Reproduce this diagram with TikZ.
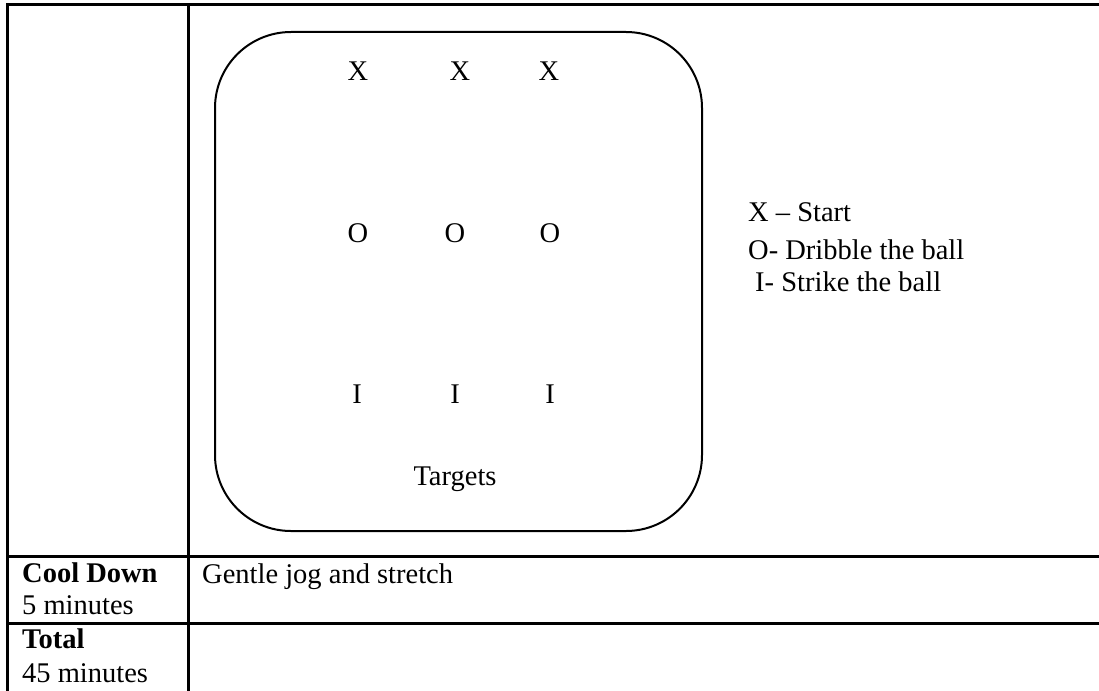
\documentclass[tikz,border=0pt]{standalone}
\usepackage{fontspec}
\setmainfont{Liberation Serif}
\begin{document}
\begin{tikzpicture}[x=1pt,y=-1pt,
  grid/.style={line width=3pt,line cap=rect},
  field/.style={line width=2pt,rounded corners=76pt},
  txt/.style={inner sep=0pt,font=\fontsize{28.5}{32}\selectfont},
  symb/.style={txt,anchor=base},
  lbl/.style={txt,anchor=base west}]
\useasboundingbox (0,0) rectangle (1099,690);
% table grid
\draw[grid] (1099,5) -- (7,5) -- (7,691);
\draw[grid] (188,5) -- (188,691);
\draw[grid] (7,556) -- (1099,556);
\draw[grid] (7,623) -- (1099,623);
% field
\draw[field] (215,32) rectangle (702,531);
% symbols
\node[symb] (x1) at (358,81) {X};
\node[symb] (x2) at (460,81) {X};
\node[symb] (x3) at (549,81) {X};
\node[symb] (o1) at (358,242) {O};
\node[symb] (o2) at (455,242) {O};
\node[symb] (o3) at (550,242) {O};
\node[symb] (i1) at (357,403) {I};
\node[symb] (i2) at (455,403) {I};
\node[symb] (i3) at (550,403) {I};
\node[symb] (tg) at (455,485) {Targets};
% legend
\node[lbl] (l1) at (748,221) {X -- Start};
\node[lbl] (l2) at (748,259) {O- Dribble the ball};
\node[lbl] (l3) at (755,291) {I- Strike the ball};
% rows
\node[lbl,font=\fontsize{28.5}{32}\selectfont\bfseries] (cd) at (22,582) {Cool Down};
\node[lbl] (cdm) at (22,614) {5 minutes};
\node[lbl] (gj) at (202,583) {Gentle jog and stretch};
\node[lbl,font=\fontsize{28.5}{32}\selectfont\bfseries] (tt) at (22,648) {Total};
\node[lbl] (ttm) at (22,682) {45 minutes};
\end{tikzpicture}
\end{document}
